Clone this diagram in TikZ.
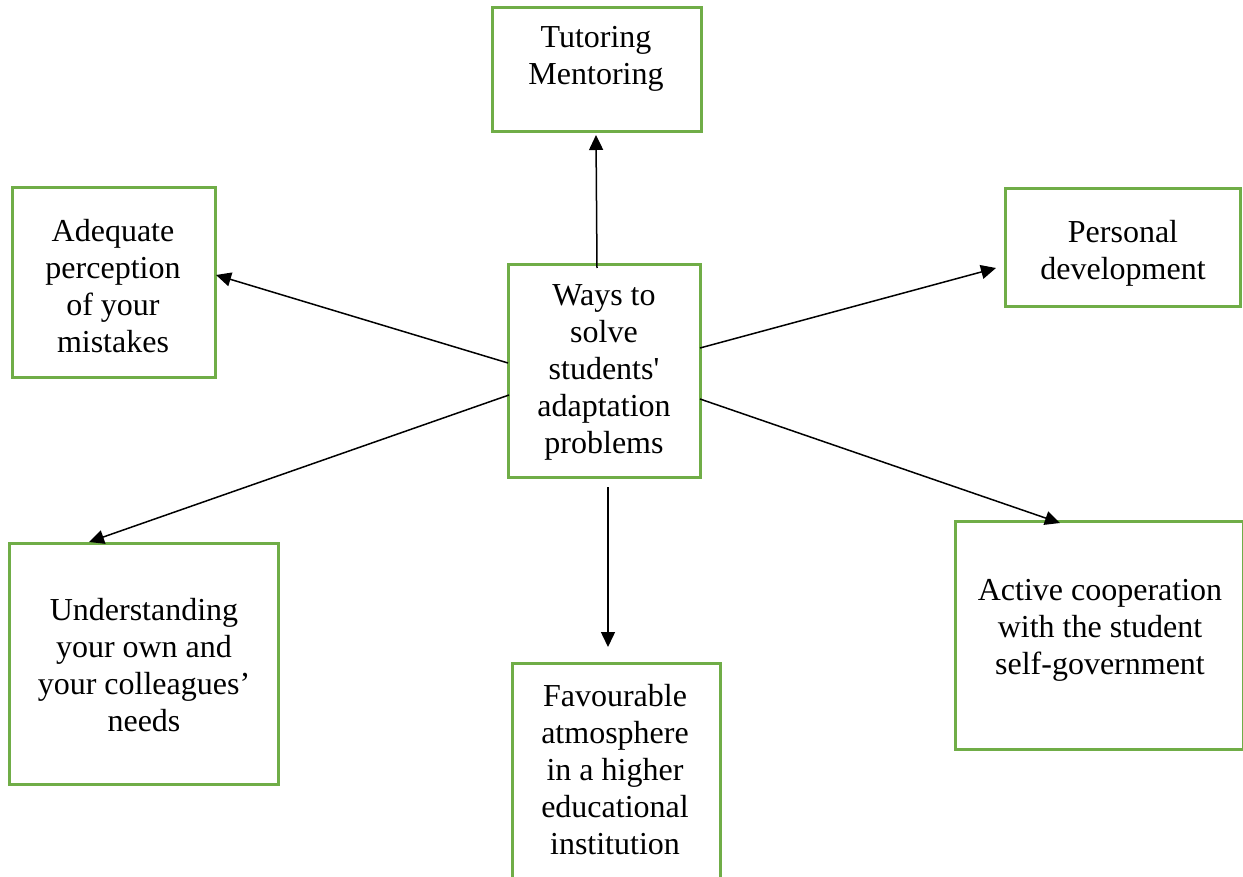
\documentclass[tikz,border=0pt]{standalone}
\usepackage{fontspec}
\setmainfont{Liberation Serif}
\usetikzlibrary{arrows.meta}
\definecolor{boxgreen}{HTML}{70AD47}
\begin{document}
\begin{tikzpicture}[x=0.5pt,y=-0.5pt,
  box/.style={draw=boxgreen,line width=1.5pt,rectangle,inner sep=0pt},
  txt/.style={font=\fontsize{16}{18.5}\selectfont,align=center,inner sep=0pt,anchor=north},
  arr/.style={line width=0.75pt,-{Triangle[length=7.5pt,width=7pt]}}]
\useasboundingbox (0,0) rectangle (1243,877);
% boxes
\node[box,minimum width=104.5pt,minimum height=62pt] (tut) at (596.5,70) {};
\node[box,minimum width=101.5pt,minimum height=95pt] (adq) at (113.5,283) {};
\node[box,minimum width=96pt,minimum height=106pt] (ctr) at (604,371) {};
\node[box,minimum width=117.5pt,minimum height=59pt] (per) at (1122.5,248) {};
\node[box,minimum width=134.5pt,minimum height=120.5pt] (und) at (143.5,663.5) {};
\node[box,minimum width=104pt,minimum height=113.5pt] (fav) at (616,776.5) {};
\node[box,minimum width=144pt,minimum height=114pt] (act) at (1099,635) {};
% texts
\node[txt] (tutT) at (596,26) {Tutoring\\Mentoring};
\node[txt] (adqT) at (113,219) {Adequate\\perception\\of your\\mistakes};
\node[txt] (ctrT) at (604,284) {Ways to\\solve\\students\textquotesingle\\adaptation\\problems};
\node[txt] (perT) at (1123,220) {Personal\\development};
\node[txt] (undT) at (144,598) {Understanding\\your own and\\your colleagues’\\needs};
\node[txt] (favT) at (615,684) {Favourable\\atmosphere\\in a higher\\educational\\institution};
\node[txt] (actT) at (1100,579) {Active cooperation\\with the student\\self-government};
% arrow end points
\coordinate (sTut) at (597,268);
\coordinate (eTut) at (596,135);
\coordinate (sAdq) at (508,363);
\coordinate (eAdq) at (216,275);
\coordinate (sUnd) at (509,395);
\coordinate (eUnd) at (89,542);
\coordinate (sPer) at (700,348);
\coordinate (ePer) at (996,268);
\coordinate (sAct) at (700,399);
\coordinate (eAct) at (1060,523);
\coordinate (sFav) at (608,487);
\coordinate (eFav) at (608,647);
% arrows
\draw[arr] (sTut) -- (eTut);
\draw[arr] (sAdq) -- (eAdq);
\draw[arr] (sUnd) -- (eUnd);
\draw[arr] (sPer) -- (ePer);
\draw[arr] (sAct) -- (eAct);
\draw[arr] (sFav) -- (eFav);
\end{tikzpicture}
\end{document}
